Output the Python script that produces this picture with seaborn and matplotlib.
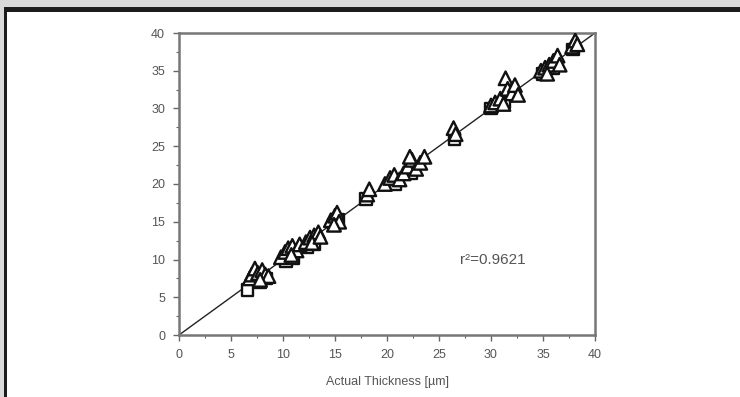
import matplotlib
matplotlib.use("Agg")
import matplotlib.pyplot as plt
import seaborn as sns
import pandas as pd
from matplotlib.patches import Rectangle
from matplotlib.ticker import MultipleLocator

# ---- data ----
tri_x = [6.8, 7.0, 7.3, 7.6, 8.0, 8.3, 8.6, 7.8,
         9.8, 10.2, 10.5, 10.9, 11.3, 11.6, 10.8,
         12.2, 12.6, 13.0, 13.4, 12.8, 13.6,
         14.6, 15.0, 15.2, 15.4, 14.9,
         18.1, 18.3,
         19.8, 20.3, 20.7, 21.2, 21.6, 22.0, 22.4, 22.8, 23.2, 23.6, 22.2,
         26.4, 26.6,
         30.0, 30.4, 30.9, 31.4, 31.6, 32.0, 32.3, 32.6, 31.2,
         34.8, 35.2, 35.6, 36.0, 36.4, 36.6, 35.4,
         37.8, 38.1, 38.3]
tri_y = [7.5, 8.0, 8.8, 8.2, 8.6, 8.0, 7.8, 7.3,
         10.3, 11.0, 11.5, 11.8, 11.2, 12.0, 10.6,
         12.3, 12.9, 13.2, 13.6, 12.2, 13.0,
         15.2, 15.8, 16.2, 15.0, 14.6,
         18.6, 19.3,
         20.0, 20.8, 21.2, 20.6, 21.4, 22.3, 23.2, 22.0, 22.8, 23.6, 23.6,
         27.4, 26.6,
         30.4, 30.8, 31.3, 34.0, 32.6, 32.0, 33.1, 31.8, 30.6,
         35.0, 35.4, 35.8, 36.3, 37.0, 35.8, 34.6,
         38.2, 39.0, 38.5]
sq_x = [6.6, 7.8, 8.4, 10.3, 11.0, 12.3, 13.0, 14.9, 15.3, 18.0, 20.8, 22.3,
        26.5, 30.0, 31.3, 35.0, 36.0, 37.9]
sq_y = [6.0, 7.0, 7.5, 9.8, 10.2, 11.6, 12.0, 14.6, 15.3, 18.0, 20.0, 21.4,
        26.0, 30.0, 30.8, 34.6, 35.4, 37.8]
line_x = [0, 40]
line_y = [0, 40]
ticks = [0, 5, 10, 15, 20, 25, 30, 35, 40]
xlabel = "Actual Thickness [µm]"
annot = "r²=0.9621"

sns.set_theme(style="white")
plt.rcParams['font.family'] = ['Liberation Sans', 'DejaVu Sans']

df = pd.DataFrame({
    "x": sq_x + tri_x,
    "y": sq_y + tri_y,
    "kind": ["sq"] * len(sq_x) + ["tri"] * len(tri_x),
})

fig = plt.figure(figsize=(7.4, 3.97), dpi=100)
fig.patch.set_facecolor("white")
W, H = 740, 397
# frame decorations of the page
fig.patches.append(Rectangle((0, 1 - 7 / H), 1, 7 / H, transform=fig.transFigure,
                             facecolor="#d9d9d9", edgecolor="none", zorder=0))
fig.patches.append(Rectangle((0, 1 - 12 / H), 1, 5 / H, transform=fig.transFigure,
                             facecolor="#1c1c1c", edgecolor="none", zorder=0))
fig.patches.append(Rectangle((0, 0), 4 / W, 1 - 7 / H, transform=fig.transFigure,
                             facecolor="#d9d9d9", edgecolor="none", zorder=0))
fig.patches.append(Rectangle((4 / W, 0), 2.5 / W, 1 - 7 / H, transform=fig.transFigure,
                             facecolor="#1c1c1c", edgecolor="none", zorder=0))

ax = fig.add_axes([179 / W, 1 - 335 / H, (595 - 179) / W, (335 - 33) / H])
ax.set_facecolor("white")

ax.plot(line_x, line_y, color="#222222", lw=1.0, zorder=1)

sns.scatterplot(data=df, x="x", y="y", style="kind", markers={"tri": "^", "sq": "s"},
                size="kind", sizes={"tri": 95, "sq": 70},
                facecolor="white", edgecolor="#111111", linewidth=1.7,
                legend=False, ax=ax, zorder=3)

ax.set_xlim(0, 40)
ax.set_ylim(0, 40)
ax.set_xticks(ticks)
ax.set_yticks(ticks)
ax.xaxis.set_minor_locator(MultipleLocator(2.5))
ax.yaxis.set_minor_locator(MultipleLocator(2.5))
ax.tick_params(axis="both", which="major", direction="out", length=4, width=1.0,
               color="#666666", labelsize=9, labelcolor="#555555", pad=6,
               bottom=True, left=True)
ax.tick_params(axis="both", which="minor", direction="out", length=2.5, width=0.8,
               color="#666666", bottom=True, left=True)
for sp in ax.spines.values():
    sp.set_color("#777777")
    sp.set_linewidth(1.8)

ax.set_xlabel(xlabel, fontsize=9, color="#555555", labelpad=11)
ax.set_ylabel("")
ax.text(27.0, 10.0, annot, fontsize=11, color="#555555", va="center", ha="left")

fig.savefig("out.png", dpi=100)
